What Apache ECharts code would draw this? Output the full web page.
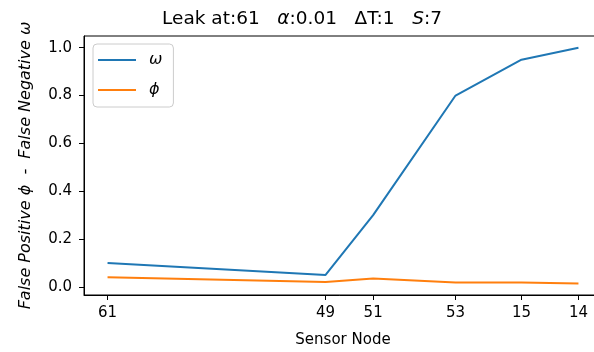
<!DOCTYPE html>
<html>
<head>
<meta charset="utf-8">
<script src="https://cdn.jsdelivr.net/npm/echarts@6/dist/echarts.min.js"></script>
<style>
  html, body { margin: 0; padding: 0; background: #fff; }
  #chart { width: 594px; height: 352px; }
</style>
</head>
<body>
<div id="chart"></div>
<script>
// Sensor nodes along the pipe and their relative positions
const nodeLabels = ['61', '49', '51', '53', '15', '14'];
const nodePos = [0, 46.3, 56.4, 73.9, 87.9, 100];
// Rates per sensor node
const omega = [0.10, 0.05, 0.30, 0.80, 0.95, 1.00];
const phi = [0.040, 0.020, 0.035, 0.018, 0.018, 0.014];
const yTicks = [0, 0.2, 0.4, 0.6, 0.8, 1.0];

const FONT = 'DejaVu Sans';
const chart = echarts.init(document.getElementById('chart'), null, { renderer: 'canvas' });

const labelFor = v => {
  const i = nodePos.findIndex(p => Math.abs(p - v) < 1e-6);
  return i >= 0 ? nodeLabels[i] : '';
};

chart.setOption({
  animation: false,
  backgroundColor: '#fff',
  graphic: [{
    type: 'text',
    x: 302, y: 19,
    style: {
      text: 'Leak at:61   {i|α}:0.01   ΔT:1   {i|S}:7',
      font: '18.5px "DejaVu Sans"',
      fill: '#000',
      align: 'center',
      verticalAlign: 'middle',
      rich: { i: { fontStyle: 'italic', fontSize: 18.5, fontFamily: FONT } }
    }
  }],
  grid: {
    left: 84, top: 36, width: 518, height: 259,
    outerBoundsMode: 'none',
    containLabel: false,
    show: true, borderColor: '#000', borderWidth: 1, backgroundColor: 'transparent'
  },
  legend: {
    left: 93, top: 44,
    orient: 'vertical',
    icon: 'rect',
    itemWidth: 38, itemHeight: 2,
    itemGap: 14,
    padding: [8, 11, 9, 5],
    backgroundColor: 'rgba(255,255,255,0.8)',
    borderColor: '#cccccc', borderWidth: 1, borderRadius: 4,
    textStyle: { fontFamily: FONT, fontSize: 16, fontStyle: 'italic', color: '#000', padding: [0, 0, 0, 8] },
    data: ['ω', 'ϕ']
  },
  xAxis: {
    type: 'value',
    min: -5, max: 105,
    name: 'Sensor Node',
    nameLocation: 'middle',
    nameGap: 38,
    nameTextStyle: { fontFamily: FONT, fontSize: 15, color: '#000' },
    axisLine: { show: true, onZero: false, lineStyle: { color: '#000', width: 1 } },
    axisTick: { show: true, inside: false, length: 5, customValues: nodePos, lineStyle: { color: '#000' } },
    axisLabel: {
      customValues: nodePos,
      formatter: labelFor,
      margin: 11,
      fontFamily: FONT, fontSize: 15, color: '#000'
    },
    splitLine: { show: false }
  },
  yAxis: {
    type: 'value',
    min: -0.034, max: 1.049,
    name: 'False Positive ϕ  -  False Negative ω',
    nameLocation: 'middle',
    nameGap: 50,
    nameTextStyle: { fontFamily: FONT, fontSize: 16, fontStyle: 'italic', color: '#000' },
    axisLine: { show: true, onZero: false, lineStyle: { color: '#000', width: 1 } },
    axisTick: { show: true, inside: false, length: 5, customValues: yTicks, lineStyle: { color: '#000' } },
    axisLabel: {
      customValues: yTicks,
      formatter: v => v.toFixed(1),
      margin: 12,
      fontFamily: FONT, fontSize: 15, color: '#000'
    },
    splitLine: { show: false }
  },
  series: [
    {
      name: 'ω', type: 'line',
      data: nodePos.map((x, i) => [x, omega[i]]),
      showSymbol: false, symbol: 'none',
      lineStyle: { color: '#1f77b4', width: 2 },
      itemStyle: { color: '#1f77b4' }
    },
    {
      name: 'ϕ', type: 'line',
      data: nodePos.map((x, i) => [x, phi[i]]),
      showSymbol: false, symbol: 'none',
      lineStyle: { color: '#ff7f0e', width: 2 },
      itemStyle: { color: '#ff7f0e' }
    }
  ]
});
</script>
</body>
</html>
